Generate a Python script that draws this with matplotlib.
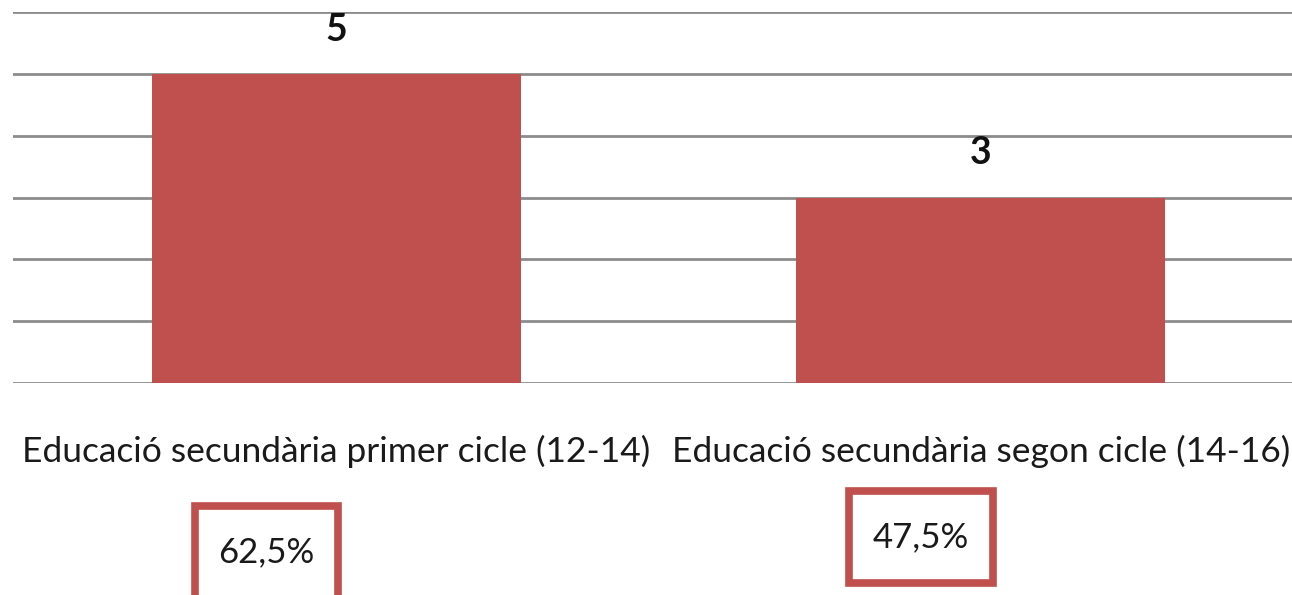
import matplotlib
matplotlib.use("Agg")
import matplotlib.pyplot as plt
from matplotlib.patches import Rectangle

categories = ["Educació secundària primer cicle (12-14)",
              "Educació secundària segon cicle (14-16)"]
values = [5, 3]
percent_labels = ["62,5%", "47,5%"]

bar_color = "#C0504D"
grid_color = "#8C8C8C"

plt.rcParams['font.family'] = ['Lato', 'DejaVu Sans']

fig = plt.figure(figsize=(12.92, 5.95), dpi=100)
W, H = 1292, 595
ax = fig.add_axes([13 / W, 1 - 383 / H, 1279 / W, (383 - 12) / H])

x = list(range(len(categories)))
bars = ax.bar(x, values, width=0.5725, color=bar_color, zorder=3)
ax.set_ylim(0, 6)
ax.set_xlim(-0.502, 1.483)
ax.set_yticks(range(0, 7))
ax.yaxis.grid(True, color=grid_color, linewidth=2, zorder=0)
ax.tick_params(axis="y", left=False, labelleft=False)
ax.set_xticks(x)
ax.set_xticklabels(categories, fontsize=25.5, color="#1a1a1a")
ax.tick_params(axis="x", bottom=False, pad=34)
for s in ax.spines.values():
    s.set_visible(False)

for rect, v in zip(bars, values):
    ax.annotate(str(v), (rect.get_x() + rect.get_width() / 2, v),
                xytext=(0, 44), textcoords="offset pixels",
                ha="center", va="center", fontsize=27, fontweight="bold",
                color="#111111")

# hand-drawn boxes below the categories (pixel positions in figure)
boxes = [(195, 506, 143, 100), (849, 491, 144, 92)]
for (bx, by, bw, bh), lab in zip(boxes, percent_labels):
    fig.patches.append(Rectangle((bx / W, 1 - (by + bh) / H), bw / W, bh / H,
                                 transform=fig.transFigure, fill=False,
                                 edgecolor=bar_color, linewidth=5.5))
    fig.text((bx + bw / 2) / W, 1 - (by + 46) / H, lab, ha="center",
             va="center", fontsize=25, color="#1a1a1a")

fig.savefig("out.png", dpi=100)
